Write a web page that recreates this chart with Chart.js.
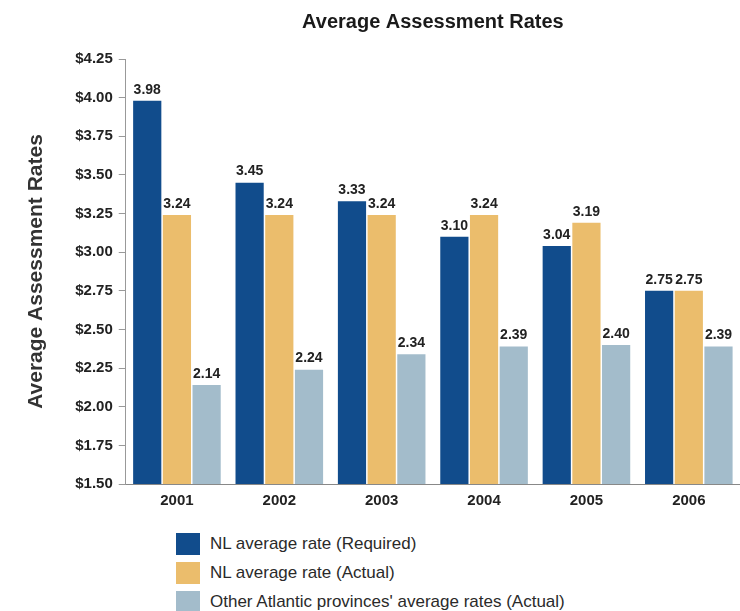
<!DOCTYPE html>
<html>
<head>
<meta charset="utf-8">
<script src="https://cdn.jsdelivr.net/npm/chart.js@4/dist/chart.umd.min.js"></script>
<style>
  body { margin: 0; background: #fff; font-family: "Liberation Sans", Arial, sans-serif; }
  #wrap { position: relative; width: 740px; height: 611px; }
  #rates { position: absolute; left: 0; top: 0; }
  #legend { position: absolute; left: 176px; top: 529px; }
  #legend div { height: 29px; display: flex; align-items: center; font-size: 17px; color: #2a2a2a; }
  #legend span { display: inline-block; width: 24px; height: 22px; margin-right: 10px; }
</style>
</head>
<body>
<div id="wrap">
  <canvas id="rates" width="740" height="515"></canvas>
  <div id="legend"></div>
</div>
<script>
var years = ["2001", "2002", "2003", "2004", "2005", "2006"];
var required = [3.98, 3.45, 3.33, 3.10, 3.04, 2.75];
var actual = [3.24, 3.24, 3.24, 3.24, 3.19, 2.75];
var atlantic = [2.14, 2.24, 2.34, 2.39, 2.40, 2.39];
var seriesNames = ["NL average rate (Required)", "NL average rate (Actual)", "Other Atlantic provinces' average rates (Actual)"];

// title centred over the plot, values printed above each bar
var extras = {
  id: 'extras',
  afterDatasetsDraw: function (chart) {
    var ctx = chart.ctx;
    ctx.save();
    ctx.fillStyle = '#222';
    ctx.textAlign = 'center';
    ctx.textBaseline = 'bottom';
    ctx.font = 'bold 14px "Liberation Sans", Arial, sans-serif';
    chart.data.datasets.forEach(function (ds, i) {
      chart.getDatasetMeta(i).data.forEach(function (bar, j) {
        ctx.fillText(ds.data[j].toFixed(2), bar.x, bar.y - 4);
      });
    });
    ctx.font = 'bold 20px "Liberation Sans", Arial, sans-serif';
    ctx.fillStyle = '#1a1a1a';
    ctx.textBaseline = 'middle';
    var area = chart.chartArea;
    ctx.fillText('Average Assessment Rates', (area.left + area.right) / 2, 22);
    ctx.restore();
  }
};

var ctxB = document.getElementById("rates").getContext('2d');
var ratesChart = new Chart(ctxB, {
  type: 'bar',
  data: {
    labels: years,
    datasets: [{
        label: seriesNames[0],
        data: required,
        backgroundColor: '#114c8c'
      },
      {
        label: seriesNames[1],
        data: actual,
        backgroundColor: '#ebbd6c'
      },
      {
        label: seriesNames[2],
        data: atlantic,
        backgroundColor: '#a3bccb'
      }
    ]
  },
  options: {
    responsive: false,
    animation: false,
    layout: { padding: { top: 59, right: 0, left: 24, bottom: 5 } },
    datasets: { bar: { categoryPercentage: 0.87, barPercentage: 0.95 } },
    plugins: {
      legend: { display: false },
      tooltip: { enabled: false },
      title: { display: false }
    },
    scales: {
      x: {
        grid: { display: false },
        border: { color: '#888' },
        ticks: { color: '#222', font: { family: 'Liberation Sans', size: 15, weight: 'bold' }, padding: 0 }
      },
      y: {
        min: 1.5,
        max: 4.25,
        border: { color: '#999' },
        grid: { drawOnChartArea: false, drawTicks: true, tickLength: 7, color: '#999' },
        ticks: {
          stepSize: 0.25,
          color: '#222',
          padding: 6,
          font: { family: 'Liberation Sans', size: 15, weight: 'bold' },
          callback: function (v) { return '$' + v.toFixed(2); }
        },
        title: {
          display: true,
          text: 'Average Assessment Rates',
          color: '#333',
          font: { family: 'Liberation Sans', size: 21, weight: 'bold' },
          padding: { top: 0, bottom: 20 }
        }
      }
    }
  },
  plugins: [extras]
});

// legend rows built from the chart's datasets
var legendBox = document.getElementById('legend');
ratesChart.data.datasets.forEach(function (ds) {
  var row = document.createElement('div');
  var sw = document.createElement('span');
  sw.style.background = ds.backgroundColor;
  row.appendChild(sw);
  row.appendChild(document.createTextNode(ds.label));
  legendBox.appendChild(row);
});
</script>
</body>
</html>
